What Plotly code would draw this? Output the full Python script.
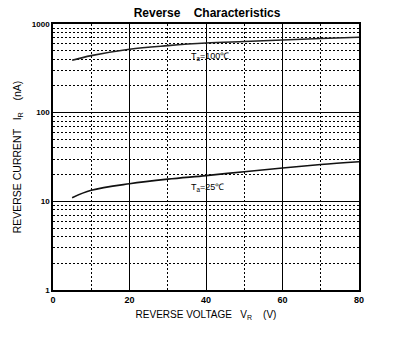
import plotly.graph_objects as go

# Data
vr = [5, 10, 20, 30, 40, 50, 60, 70, 80]
ir_100 = [390, 440, 520, 570, 610, 635, 660, 685, 710]
ir_25 = [11.0, 13.3, 15.8, 17.8, 19.5, 21.6, 23.8, 26.0, 28.0]

x_major = [0, 20, 40, 60, 80]
x_minor = [10, 30, 50, 70]
y_major = [1, 10, 100, 1000]
y_minor = [m * d for d in (1, 10, 100) for m in range(2, 10)]

FONT = "Liberation Sans, Arial, sans-serif"

fig = go.Figure()
fig.add_trace(go.Scatter(x=vr, y=ir_100, mode="lines", line=dict(color="#222", width=1.6, shape="spline"),
                         showlegend=False, hoverinfo="skip"))
fig.add_trace(go.Scatter(x=vr, y=ir_25, mode="lines", line=dict(color="#111", width=1.6, shape="spline"),
                         showlegend=False, hoverinfo="skip"))

fig.update_layout(
    width=402, height=341,
    margin=dict(l=53, r=43, t=24, b=51),
    paper_bgcolor="white", plot_bgcolor="white",
    font=dict(family=FONT, color="black"),
    title=dict(text="<b>Reverse    Characteristics</b>", x=0.515, xanchor="center", y=0.962, yanchor="middle",
               font=dict(size=12, family=FONT)),
    xaxis=dict(range=[0, 80], tickmode="array", tickvals=x_major, ticktext=[f"<b>{v}</b>" for v in x_major],
               showgrid=True, gridcolor="black", gridwidth=1.2, zeroline=False,
               showline=True, linecolor="black", linewidth=1.6, mirror=True, ticks="",
               tickfont=dict(size=9, family=FONT),
               minor=dict(tickmode="array", tickvals=x_minor, showgrid=True, gridcolor="black",
                          griddash="2px,2px", gridwidth=1, ticks=""),
               title=dict(text="REVERSE VOLTAGE   V<sub>R</sub>    (V)", font=dict(size=10, family=FONT), standoff=7)),
    yaxis=dict(type="log", range=[0, 3], tickmode="array", tickvals=y_major,
               ticktext=[f"<b>{v}</b>" for v in y_major],
               showgrid=True, gridcolor="black", gridwidth=1.2, zeroline=False,
               showline=True, linecolor="black", linewidth=1.6, mirror=True, ticks="",
               tickfont=dict(size=8, family=FONT),
               minor=dict(tickmode="array", tickvals=y_minor, showgrid=True, gridcolor="black",
                          griddash="2px,2px", gridwidth=1, ticks=""),
               title=dict(text="REVERSE CURRENT   I<sub>R</sub>    (nA)", font=dict(size=10.5, family=FONT), standoff=8)),
)

fig.add_annotation(x=35.5, y=2.63, xref="x", yref="y", text="T<sub>a</sub>=100℃", showarrow=False,
                   xanchor="left", yanchor="middle", font=dict(size=9, family=FONT))
fig.add_annotation(x=35.5, y=1.16, xref="x", yref="y", text="T<sub>a</sub>=25℃", showarrow=False,
                   xanchor="left", yanchor="middle", font=dict(size=9, family=FONT))

fig.write_html("out.html")
